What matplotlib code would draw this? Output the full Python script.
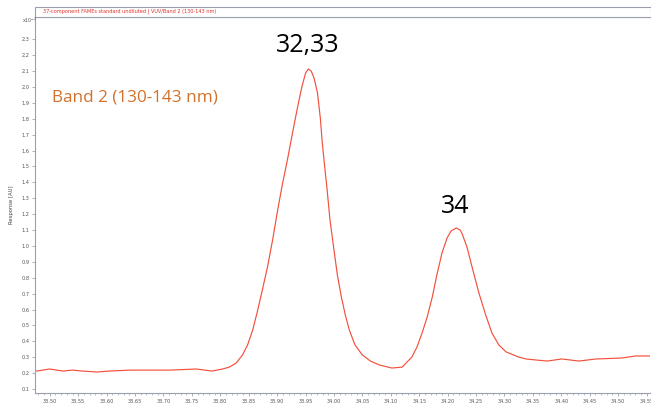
import matplotlib
matplotlib.use("Agg")
import matplotlib.pyplot as plt
import numpy as np
from matplotlib.patches import Rectangle
from matplotlib.ticker import MultipleLocator, FormatStrFormatter

# Retention time (min) and response (x10^-2 AU)
time_min = [33.477, 33.500, 33.523, 33.540, 33.558, 33.583, 33.605, 33.641, 33.676, 33.711,
            33.758, 33.785, 33.804, 33.816, 33.828, 33.839, 33.848, 33.857, 33.865, 33.874,
            33.883, 33.892, 33.900, 33.909, 33.918, 33.927, 33.936, 33.943, 33.950, 33.955,
            33.960, 33.965, 33.971, 33.976, 33.979, 33.983, 33.988, 33.993, 34.000, 34.006,
            34.013, 34.020, 34.027, 34.037, 34.050, 34.064, 34.080, 34.102, 34.120, 34.137,
            34.146, 34.155, 34.164, 34.173, 34.181, 34.190, 34.199, 34.206, 34.215, 34.222,
            34.225, 34.234, 34.243, 34.255, 34.267, 34.278, 34.290, 34.303, 34.325, 34.338,
            34.357, 34.375, 34.387, 34.401, 34.431, 34.461, 34.506, 34.531, 34.555]
response = [0.213, 0.226, 0.213, 0.219, 0.213, 0.207, 0.213, 0.219, 0.219, 0.219,
            0.226, 0.213, 0.226, 0.238, 0.264, 0.314, 0.377, 0.471, 0.584, 0.723,
            0.867, 1.037, 1.207, 1.383, 1.540, 1.710, 1.874, 1.993, 2.087, 2.113,
            2.100, 2.056, 1.962, 1.804, 1.666, 1.521, 1.352, 1.163, 0.974, 0.817,
            0.679, 0.565, 0.471, 0.377, 0.314, 0.276, 0.251, 0.232, 0.238, 0.301,
            0.364, 0.452, 0.553, 0.679, 0.817, 0.955, 1.050, 1.094, 1.113, 1.100,
            1.081, 0.993, 0.867, 0.704, 0.565, 0.452, 0.377, 0.333, 0.301, 0.289,
            0.282, 0.276, 0.282, 0.289, 0.276, 0.289, 0.295, 0.308, 0.308]

peak_labels = ["32,33", "34"]
peak_label_x = [33.954, 34.214]
peak_label_y = [2.258, 1.246]
band_label = "Band 2 (130-143 nm)"
title_text = "37-component FAMEs standard undiluted | VUV/Band 2 (130-143 nm)"
y_label = "Response [AU]"
y_ticks = np.round(np.arange(0.1, 2.35, 0.1), 1)

W, H = 651, 403
fig = plt.figure(figsize=(W / 100, H / 100), dpi=100)
plt.rcParams['font.family'] = ['DejaVu Sans']

ax_left, ax_right, ax_top, ax_bottom = 35, 650, 17, 393
ax = fig.add_axes([ax_left / W, 1 - ax_bottom / H, (ax_right - ax_left) / W, (ax_bottom - ax_top) / H])

ax.plot(time_min, response, color="#f2503c", lw=0.85)

ax.set_xlim(33.474, 34.556)
ax.set_ylim(0.075, 2.44)

ax.xaxis.set_major_locator(MultipleLocator(0.05))
ax.xaxis.set_major_formatter(FormatStrFormatter("%.2f"))
ax.xaxis.set_minor_locator(MultipleLocator(0.01))
ax.set_yticks(y_ticks)
ax.yaxis.set_major_formatter(FormatStrFormatter("%.1f"))

ax.tick_params(axis="both", which="major", labelsize=3.6, length=2.5, width=0.5,
               color="#8a8fa0", labelcolor="#555555", pad=1.5)
ax.tick_params(axis="both", which="minor", length=1.2, width=0.4, color="#8a8fa0")
ax.tick_params(axis="y", which="minor", left=False)

for s in ["left", "bottom", "top"]:
    ax.spines[s].set_color("#9aa0b2")
    ax.spines[s].set_linewidth(0.8)
ax.spines["right"].set_visible(False)

ax.set_ylabel(y_label, fontsize=3.8, color="#444444", labelpad=5)

for lab, lx, ly in zip(peak_labels, peak_label_x, peak_label_y):
    ax.text(lx, ly, lab, fontsize=18, ha="center", va="center", color="black",
            family=["Open Sans", "DejaVu Sans"])

ax.text(33.5035, 1.936, band_label, fontsize=12.3, ha="left", va="center", color="#d2712c",
        family=["Open Sans", "DejaVu Sans"])

# Title box
fig.patches.append(Rectangle((ax_left / W, 1 - 17 / H), (W - ax_left) / W, 10 / H,
                             transform=fig.transFigure, facecolor="white",
                             edgecolor="#9aa0b2", lw=0.8))
fig.text(43 / W, 1 - 11.5 / H, title_text, fontsize=3.6, color="#e0302a", va="center", ha="left")
fig.text(22 / W, 1 - 20 / H, r"x10$^{-2}$", fontsize=3.4, color="#555555", va="center", ha="left")

fig.savefig("out.png", dpi=100, facecolor="white")
